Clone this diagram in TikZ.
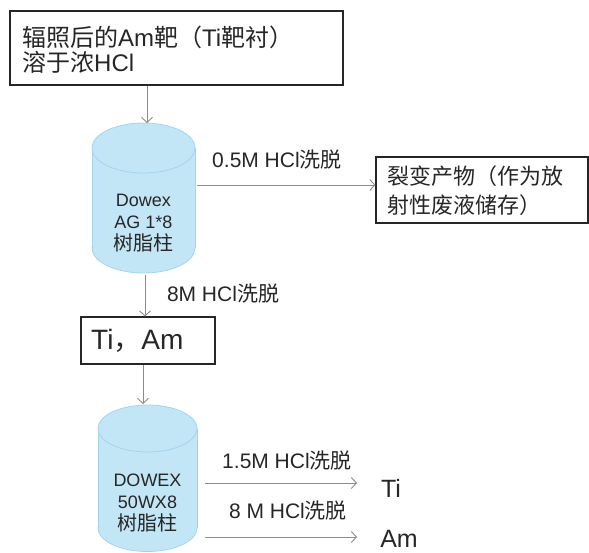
\documentclass[tikz,border=0pt]{standalone}
\usepackage{fontspec}
\setmainfont{Liberation Sans}
\newfontfamily\cjk{Noto Sans CJK SC}
\newcommand{\zh}[1]{{\cjk #1}}
\usetikzlibrary{arrows.meta}
\definecolor{txt}{HTML}{262626}
\definecolor{arr}{HTML}{8C8C8C}
\definecolor{cylfill}{HTML}{C3E6F7}
\definecolor{cyledge}{HTML}{A3D4EE}
\tikzset{
  boxnode/.style={draw=txt, line width=1.2pt, inner sep=0pt, text=txt},
  conn/.style={draw=arr, line width=0.9pt, -{Straight Barb[length=5pt,width=11pt,line width=0.9pt]}},
  lbl/.style={text=txt, font=\fontsize{21}{23}\selectfont, inner sep=0pt},
  cyltext/.style={text=txt, align=center, font=\fontsize{18}{22}\selectfont, inner sep=0pt},
  cylbody/.style={fill=cylfill, draw=none},
  cylline/.style={draw=cyledge, line width=0.8pt}
}
\begin{document}
\begin{tikzpicture}[x=1pt,y=-1pt]
\useasboundingbox (0,0) rectangle (589,553);
% top box
\node[boxnode, minimum width=333pt, minimum height=74pt] (start) at (176.5,48) {};
\node[text=txt, align=left, anchor=west, inner sep=0pt, font=\fontsize{24}{25}\selectfont] (starttext) at (22,50)
  {\zh{辐照后的}Am\zh{靶（}Ti\zh{靶衬）}\\\zh{溶于浓}HCl};
% cylinder A
\fill[cylbody] (143.5,248) ellipse (51.5 and 25);
\draw[cylline] (143.5,248) ellipse (51.5 and 25);
\fill[cylbody] (92,148) rectangle (195,248);
\draw[cylline] (92,148) -- (92,248) (195,148) -- (195,248);
\fill[cylbody] (143.5,148) ellipse (51.5 and 25);
\draw[cylline] (143.5,148) ellipse (51.5 and 25);
\node[cyltext] (cylA) at (143.5,223) {Dowex\\AG 1*8\\{\fontsize{20}{22}\selectfont\zh{树脂柱}}};
\coordinate (cylAtop) at (147,123);
\coordinate (cylAright) at (197,185);
\coordinate (cylAbot) at (145,275);
% fragment box
\node[boxnode, minimum width=212pt, minimum height=66pt] (frag) at (482,190) {};
\node[text=txt, align=left, anchor=west, inner sep=0pt, font=\fontsize{22}{29}\selectfont] (fragtext) at (387,191)
  {\zh{裂变产物（作为放}\\\zh{射性废液储存）}};
% Ti Am box
\node[boxnode, minimum width=134pt, minimum height=47pt] (tiam) at (148,340.5) {};
\node[text=txt, anchor=west, inner sep=0pt, font=\fontsize{28}{30}\selectfont] (tiamtext) at (91,341) {Ti\zh{，}Am};
% cylinder B
\fill[cylbody] (147.5,528) ellipse (49.5 and 23.5);
\draw[cylline] (147.5,528) ellipse (49.5 and 23.5);
\fill[cylbody] (98,428.5) rectangle (197,528);
\draw[cylline] (98,428.5) -- (98,528) (197,428.5) -- (197,528);
\fill[cylbody] (147.5,428.5) ellipse (49.5 and 23.5);
\draw[cylline] (147.5,428.5) ellipse (49.5 and 23.5);
\node[cyltext] (cylB) at (147.5,503.5) {DOWEX\\50WX8\\{\fontsize{20}{22}\selectfont\zh{树脂柱}}};
\coordinate (cylBtop) at (143,404);
\coordinate (cylBr1) at (205,483);
\coordinate (cylBr2) at (205,537);
% outputs
\node[text=txt, inner sep=0pt, font=\fontsize{25}{27}\selectfont] (ti) at (391,488) {Ti};
\node[text=txt, inner sep=0pt, font=\fontsize{25}{27}\selectfont] (am) at (399,539) {Am};
% connectors
\draw[conn] (start.south -| cylAtop) -- (cylAtop);
\draw[conn] (cylAright) -- (frag.west |- cylAright);
\node[lbl] (l1) at (277,160) {0.5M HCl\zh{洗脱}};
\draw[conn] (cylAbot) -- (tiam.north -| cylAbot);
\node[lbl] (l2) at (223,294) {8M HCl\zh{洗脱}};
\draw[conn] (tiam.south -| cylBtop) -- (cylBtop);
\draw[conn] (cylBr1) -- (357,483) coordinate (e1);
\node[lbl] (l3) at (287,461) {1.5M HCl\zh{洗脱}};
\draw[conn] (cylBr2) -- (357,537) coordinate (e2);
\node[lbl] (l4) at (288,511) {8 M HCl\zh{洗脱}};
\end{tikzpicture}
\end{document}
